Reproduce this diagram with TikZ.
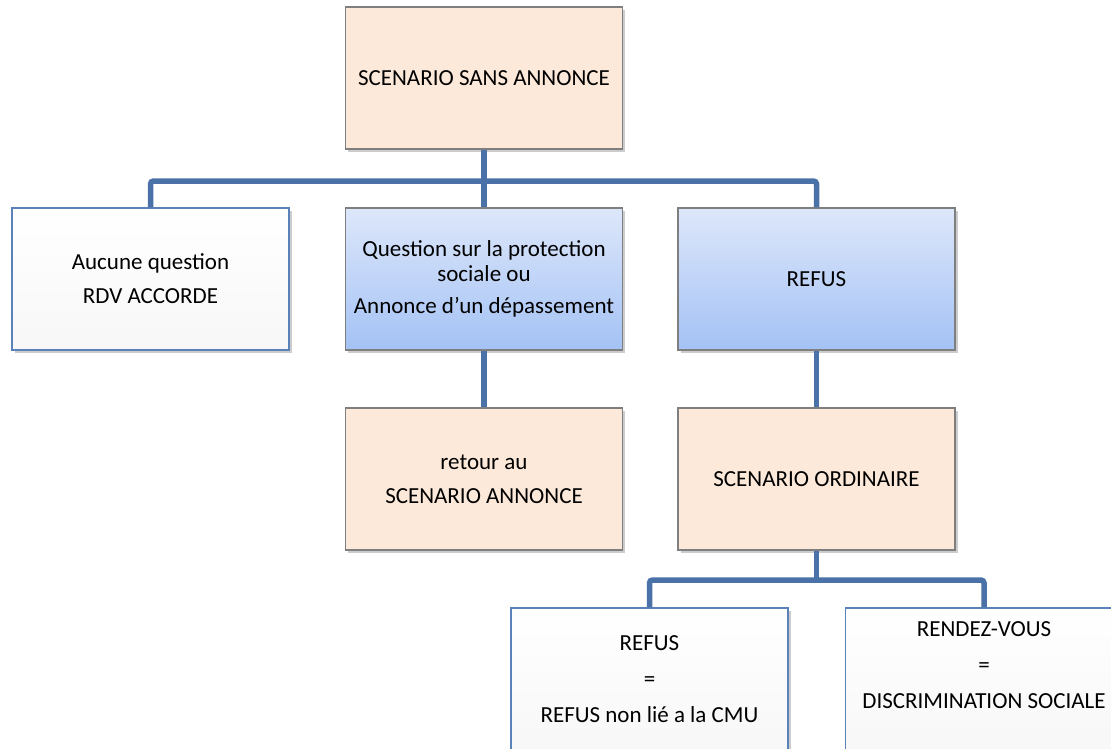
\documentclass[tikz,border=0pt]{standalone}
\usepackage{fontspec}
\setmainfont{Carlito}
\usetikzlibrary{shadows}

\begin{document}
\begin{tikzpicture}[x=1pt, y=-1pt]

% -------------------------------------------------------
% Layout parameters (pixel units, y pointing down)
% -------------------------------------------------------
\def\bw{277}     % box width
\def\bh{142}     % box height
\def\lk{5.5}     % connector width

% X centers
\def\xLeft{150.5}
\def\xMid{484}
\def\xRight{816.5}
\def\xLow{649.5}
\def\xLowR{984}

% Y centers
\def\yTop{78}
\def\yOne{279}
\def\yTwo{479}
\def\yThree{679}

% bus lines
\def\yBusA{181}
\def\yBusB{580}

% colors
\definecolor{cPeach}{HTML}{FDE9D9}
\definecolor{cBlueTop}{HTML}{DDE7FA}
\definecolor{cBlueBot}{HTML}{A4C2F5}
\definecolor{cLine}{HTML}{4A72A8}
\definecolor{cFrame}{HTML}{7F7F7F}
\definecolor{cBlueFrame}{HTML}{5A82B9}

\tikzstyle{box} = [rectangle, minimum width=\bw, minimum height=\bh, inner xsep=3pt,
  align=center, line width=1.5pt, font=\fontsize{23}{25}\selectfont,
  drop shadow={shadow xshift=2.5pt, shadow yshift=-2.5pt, fill=black!40}];
\tikzstyle{peach} = [box, draw=cFrame, fill=cPeach];
\tikzstyle{blue} = [box, draw=cFrame, top color=cBlueTop, bottom color=cBlueBot];
\tikzstyle{plain} = [box, draw=cBlueFrame, top color=white, bottom color=black!3];
\tikzstyle{link} = [line width=\lk, draw=cLine, rounded corners=3pt];

\useasboundingbox (0,0) rectangle (1111,748);
\clip (0,0) rectangle (1111,748);

%%%%%% BOXES
\node[peach] (start) at (\xMid, \yTop) {SCENARIO SANS ANNONCE};

\node[plain] (noq) at (\xLeft, \yOne) {Aucune question\\[9pt]RDV ACCORDE};
\node[blue] (ques) at (\xMid, \yOne) {Question sur la protection\\sociale ou\\[7pt]Annonce d’un dépassement};
\node[blue] (refus) at (\xRight, \yOne) {REFUS};

\node[peach] (retour) at (\xMid, \yTwo) {retour au\\[9pt]SCENARIO ANNONCE};
\node[peach] (ordin) at (\xRight, \yTwo) {SCENARIO ORDINAIRE};

\node[plain] (nonlie) at (\xLow, \yThree) {REFUS\\[11pt]=\\[11pt]REFUS non lié a la CMU};
\node[plain, minimum height=\bh] (rdv) at (\xLowR, \yThree) {};
\node[align=center, font=\fontsize{23}{25}\selectfont] (rdvtext) at (\xLowR, 665) {RENDEZ-VOUS\\[11pt]=\\[11pt]DISCRIMINATION SOCIALE};

%%%%%% CONNECTORS
\coordinate (busA) at (\xMid, \yBusA);
\coordinate (busB) at (\xRight, \yBusB);

\draw[link] (start.south) -- (ques.north);
\draw[link] (noq.north) -- (noq.north |- busA) -- (refus.north |- busA) -- (refus.north);
\draw[link] (ques.south) -- (retour.north);
\draw[link] (refus.south) -- (ordin.north);
\draw[link] (ordin.south) -- (busB);
\draw[link] (nonlie.north) -- (nonlie.north |- busB) -- (rdv.north |- busB) -- (rdv.north);

\end{tikzpicture}
\end{document}
